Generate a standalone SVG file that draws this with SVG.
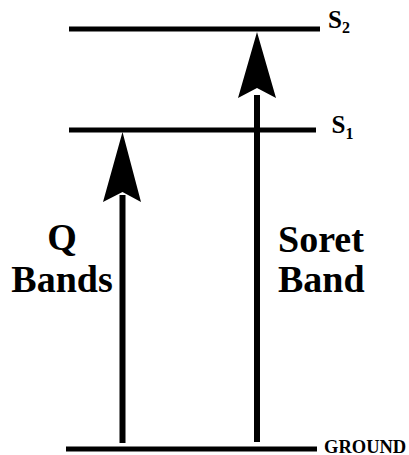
<svg xmlns="http://www.w3.org/2000/svg" width="409" height="455" viewBox="0 0 409 455">
<style>
.lvl{stroke:#000;stroke-width:5;fill:none}
.shaft{stroke:#000;stroke-width:6;fill:none}
.head{fill:#000}
.t{font-family:'Liberation Serif','Times New Roman',Tinos,'DejaVu Serif',serif;font-weight:700;fill:#000}
.big{font-size:38px}
.lab{font-size:25px}
.sub{font-size:16px}
</style>
<g id="level-s2"><line class="lvl" x1="69" y1="29" x2="320" y2="29"/><text class="t lab" x="328" y="28">S<tspan class="sub" dy="5">2</tspan></text></g>
<g id="level-s1"><line class="lvl" x1="69" y1="130" x2="316" y2="130"/><text class="t lab" x="331.5" y="133">S<tspan class="sub" dy="6">1</tspan></text></g>
<g id="level-ground"><line class="lvl" x1="66" y1="449" x2="317" y2="449"/><text class="t" x="324" y="453" style="font-size:18.5px">GROUND</text></g>
<g id="connectors">
<line class="shaft" x1="122.5" y1="443" x2="122.5" y2="195"/>
<path class="head" d="M122.5 132 L141 202 L122.5 192 L103 202 Z"/>
<line class="shaft" x1="257" y1="442" x2="257" y2="95"/>
<path class="head" d="M257 32 L276 98 L257 88 L238 98 Z"/>
</g>
<g id="label-q"><text class="t big" x="62" y="250" text-anchor="middle">Q</text><text class="t big" x="62" y="292" text-anchor="middle">Bands</text></g>
<g id="label-soret"><text class="t big" x="278" y="252">Soret</text><text class="t big" x="278" y="292">Band</text></g>
</svg>
